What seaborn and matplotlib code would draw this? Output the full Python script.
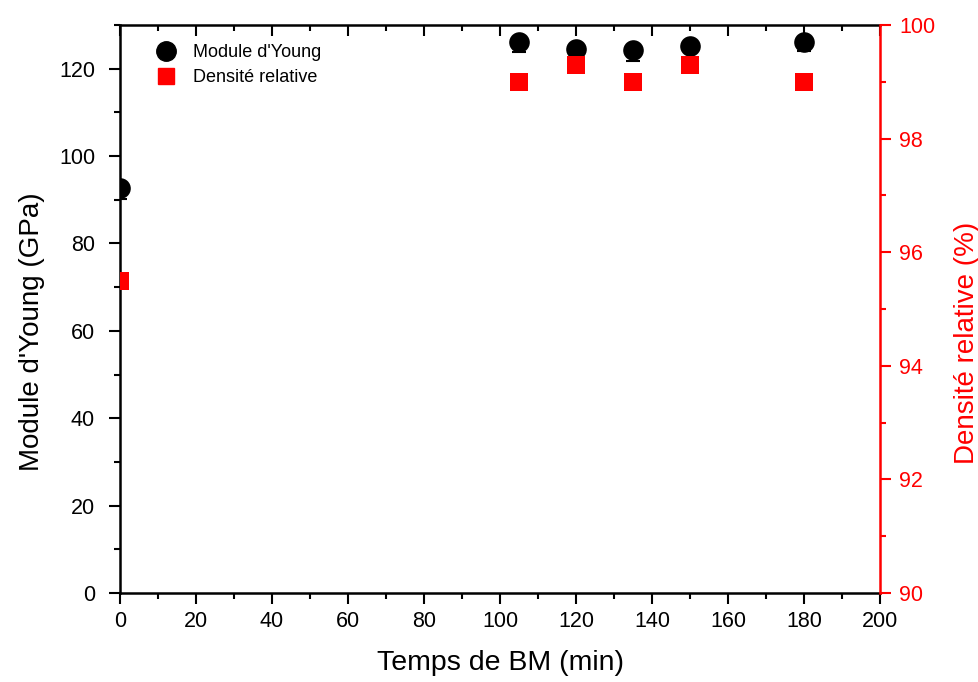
import numpy as np
import pandas as pd
import matplotlib
matplotlib.use("Agg")
import matplotlib.pyplot as plt
import seaborn as sns
from matplotlib.ticker import MultipleLocator

# Data
temps = [0, 105, 120, 135, 150, 180]
module_young = [92.8, 126.2, 124.4, 124.2, 125.3, 126.2]
module_err_low = [2.6, 2.3, 1.0, 2.4, 1.0, 2.2]
densite = [95.5, 99.0, 99.3, 99.0, 99.3, 99.0]

sns.set_style("ticks")
plt.rcParams['font.family'] = ['Liberation Sans', 'DejaVu Sans']
plt.rcParams['text.color'] = 'black'
plt.rcParams['axes.labelcolor'] = 'black'

df = pd.DataFrame({"temps": temps, "module": module_young, "densite": densite})

fig = plt.figure(figsize=(9.79, 6.82), dpi=100)
ax = fig.add_axes([0.1226, 0.1305, 0.7763, 0.8328])
ax2 = ax.twinx()

# Young's modulus with error bars (lower part visible below the markers)
ax.errorbar(temps, module_young, yerr=[module_err_low, [0] * len(temps)], fmt='none',
            ecolor='black', elinewidth=1.5, capsize=5, capthick=1.5, zorder=2)
sns.scatterplot(data=df, x="temps", y="module", ax=ax, color='black', marker='o',
                s=220, edgecolor='black', linewidth=0, zorder=3, legend=False)

# relative density
sns.scatterplot(data=df, x="temps", y="densite", ax=ax2, color='red', marker='s',
                s=150, edgecolor='red', linewidth=0, zorder=3, legend=False)

ax.set_xlim(0, 200)
ax.set_ylim(0, 130)
ax2.set_ylim(90, 100)

ax.xaxis.set_major_locator(MultipleLocator(20))
ax.xaxis.set_minor_locator(MultipleLocator(10))
ax.yaxis.set_major_locator(MultipleLocator(20))
ax.yaxis.set_minor_locator(MultipleLocator(10))
ax2.yaxis.set_major_locator(MultipleLocator(2))
ax2.yaxis.set_minor_locator(MultipleLocator(1))

ax.set_xlabel("Temps de BM (min)", fontsize=20.5, labelpad=13)
ax.set_ylabel("Module d'Young (GPa)", fontsize=20, labelpad=10)
ax2.set_ylabel("Densité relative (%)", fontsize=20, color='red', labelpad=13)
ax.yaxis.label.set_y(0.46)
ax2.yaxis.label.set_y(0.44)

ax.tick_params(axis='both', which='major', labelsize=15.5, length=8, width=1.5,
               direction='out', colors='black')
ax.tick_params(axis='x', which='major', pad=5)
ax.tick_params(axis='y', which='major', pad=10)
ax.tick_params(axis='both', which='minor', length=4, width=1.5, direction='out', colors='black')
ax.tick_params(axis='x', which='both', top=True)
ax2.tick_params(axis='y', which='major', labelsize=15.5, length=8, width=1.5,
                colors='red', direction='out', pad=6)
ax2.tick_params(axis='y', which='minor', length=4, width=1.5, colors='red', direction='out')

for side in ['left', 'bottom', 'top']:
    ax.spines[side].set_linewidth(1.8)
    ax.spines[side].set_color('black')
    ax2.spines[side].set_visible(False)
ax.spines['right'].set_visible(False)
ax2.spines['right'].set_visible(True)
ax2.spines['right'].set_color('red')
ax2.spines['right'].set_linewidth(1.8)

# top ticks point inward
for t in ax.xaxis.get_major_ticks() + ax.xaxis.get_minor_ticks():
    t.tick2line.set_marker(matplotlib.lines.TICKDOWN)

handles = [
    plt.Line2D([], [], marker='o', color='black', linestyle='none', markersize=14),
    plt.Line2D([], [], marker='s', color='red', linestyle='none', markersize=12),
]
ax.legend(handles, ["Module d'Young", "Densité relative"], loc='upper left',
          bbox_to_anchor=(0.015, 0.995), frameon=False, fontsize=13,
          handletextpad=0.5, labelspacing=0.45)

fig.savefig("out.png", dpi=100)
